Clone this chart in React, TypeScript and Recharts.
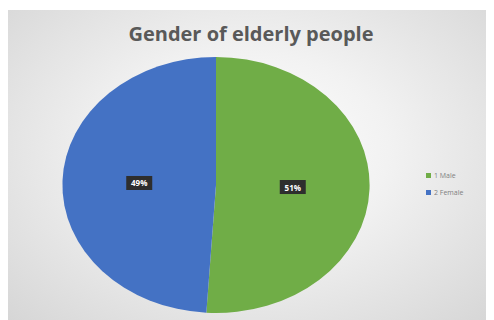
import { PieChart, Pie, Cell, Sector, Legend } from 'recharts';

const CATEGORIES = ['1 Male', '2 Female'];
const VALUES = [51, 49];
const COLORS = ['#70ad47', '#4472c4'];

const data = CATEGORIES.map((name, i) => ({ name, value: VALUES[i] }));

// Excel draws this pie stretched sideways, so widen the sectors horizontally
const SX = 1.2;
const RAD = Math.PI / 180;

const StretchedSector = (props: any) => {
  const { cx, cy } = props;
  return (
    <g transform={`translate(${cx},${cy}) scale(${SX},1) translate(${-cx},${-cy})`}>
      <Sector {...props} />
    </g>
  );
};

const renderLabel = (props: any) => {
  const { cx, cy, midAngle, outerRadius, percent } = props;
  const r = outerRadius * 0.5;
  const x = cx + Math.cos(-midAngle * RAD) * r * SX;
  const y = cy + Math.sin(-midAngle * RAD) * r;
  const text = `${Math.round(percent * 100)}%`;
  return (
    <g>
      <rect x={x - 13} y={y - 7} width={26} height={14} fill="#2e2e2e" />
      <text
        x={x}
        y={y}
        fill="#ffffff"
        fontSize={8}
        fontWeight="bold"
        textAnchor="middle"
        dominantBaseline="central"
        fontFamily="'Open Sans', sans-serif"
      >
        {text}
      </text>
    </g>
  );
};

const LegendContent = ({ payload }: any) => (
  <div style={{ fontFamily: "'Open Sans', sans-serif", fontSize: 7, color: '#7f7f7f' }}>
    {(payload ?? []).map((entry: any) => (
      <div key={entry.value} style={{ display: 'flex', alignItems: 'center', height: 17 }}>
        <span style={{ width: 5, height: 5, background: entry.color, marginRight: 3 }} />
        {entry.value}
      </div>
    ))}
  </div>
);

export default function App() {
  return (
    <div
      style={{
        position: 'relative',
        width: 486,
        height: 310,
        marginTop: 2,
        background: 'radial-gradient(ellipse at 50% 45%, #ffffff 0%, #f2f2f2 40%, #d6d6d6 100%)',
      }}
    >
      <div
        style={{
          position: 'absolute',
          left: 0,
          top: 10,
          width: 486,
          textAlign: 'center',
          fontFamily: "'Open Sans', sans-serif",
          fontWeight: 'bold',
          fontSize: 20,
          color: '#595959',
        }}
      >
        Gender of elderly people
      </div>
      <PieChart width={486} height={310} style={{ position: 'absolute', left: 0, top: 0 }}>
        <Pie
          data={data}
          dataKey="value"
          nameKey="name"
          cx={203}
          cy={170}
          outerRadius={128}
          startAngle={90}
          endAngle={-270}
          stroke="none"
          shape={StretchedSector}
          label={renderLabel}
          labelLine={false}
          isAnimationActive={false}
        >
          {data.map((d, i) => (
            <Cell key={d.name} fill={COLORS[i]} />
          ))}
        </Pie>
        <Legend
          layout="vertical"
          content={<LegendContent />}
          wrapperStyle={{ position: 'absolute', left: 418, top: 157, width: 60 }}
        />
      </PieChart>
    </div>
  );
}
